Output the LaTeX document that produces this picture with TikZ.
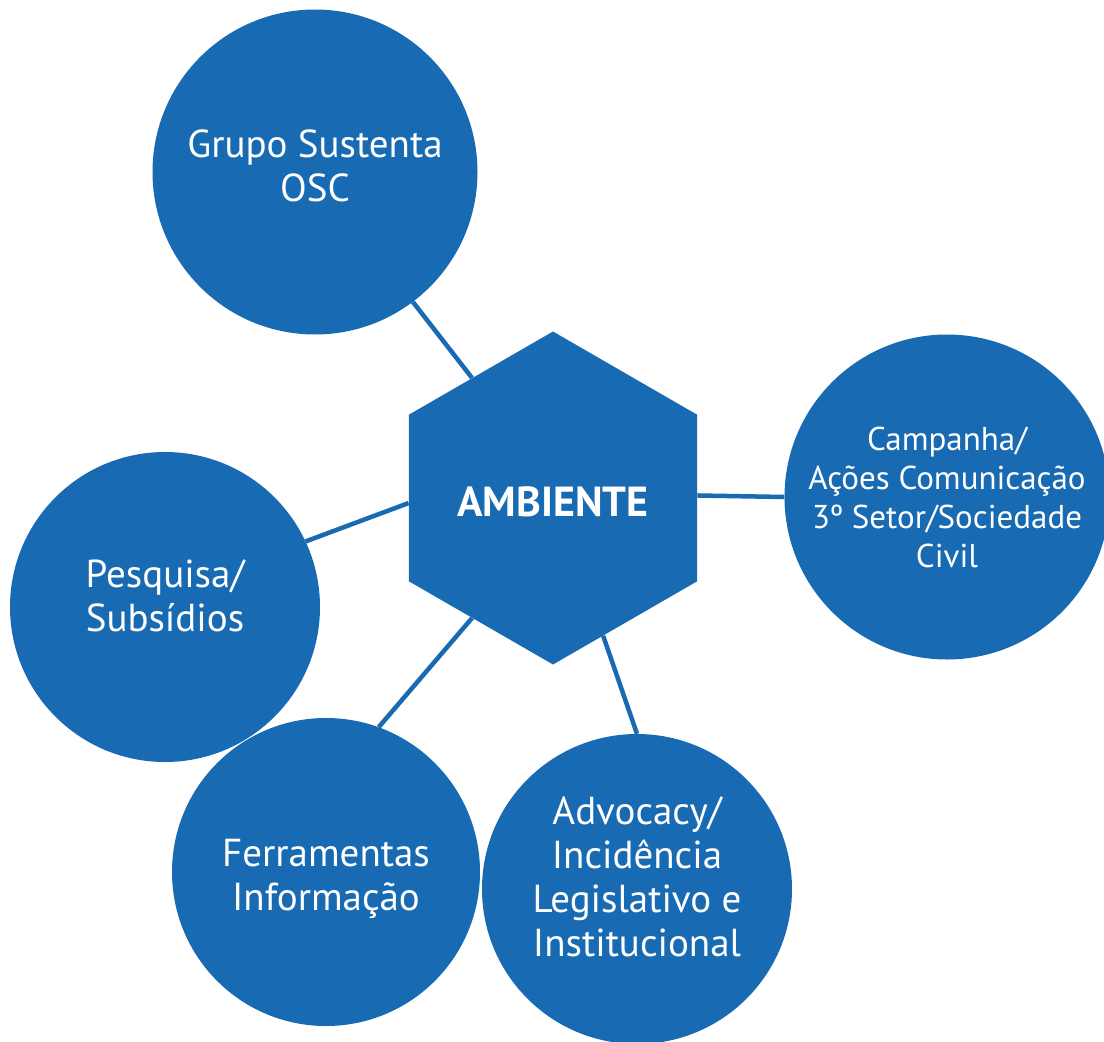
\documentclass[tikz,border=0pt]{standalone}
\usepackage{fontspec}
\setmainfont{PT Sans}
\usetikzlibrary{shapes.geometric}
\definecolor{azul}{RGB}{24,106,178}

\begin{document}
\begin{tikzpicture}[x=1pt,y=-1pt]
      \useasboundingbox (0,0) rectangle (1104,1042);

      \begin{scope}[every node/.style={circle, fill=azul, text=white, align=center, inner sep=0pt,
          font=\fontsize{39}{44}\selectfont}]
        \node[minimum size=325pt, text depth=12pt] (grupo) at (315,172)  {Grupo Sustenta\\OSC};
        \node[minimum size=325pt, font=\fontsize{33}{39}\selectfont] (campanha) at (947,497)
          {Campanha/\\Ações Comunicação\\3º Setor/Sociedade\\Civil};
        \node[minimum size=310pt, text depth=23pt] (pesquisa) at (165,607)  {Pesquisa/\\Subsídios};
        \node[minimum size=308pt, text height=86pt] (ferram) at (326,872)  {Ferramentas\\Informação};
        \node[minimum size=310pt, text depth=24pt] (advocacy) at (637,889)
          {Advocacy/\\Incidência\\Legislativo e\\Institucional};
      \end{scope}

      \node[regular polygon, regular polygon sides=6, shape border rotate=30, fill=azul,
        minimum size=333pt, inner sep=0pt, text=white, text height=37pt,
        font=\fontsize{42}{48}\selectfont\bfseries] (ambiente) at (553,498) {AMBIENTE};

      \begin{scope}[every path/.style={draw=azul, line width=4.5pt}]
        \path (grupo.-53)    -- (ambiente.124);
        \path (campanha.180) -- (ambiente.1);
        \path (pesquisa.25)  -- (ambiente.182);
        \path (ferram.70)    -- (ambiente.236);
        \path (advocacy.90)  -- (ambiente.290);
      \end{scope}

    \end{tikzpicture}
\end{document}
